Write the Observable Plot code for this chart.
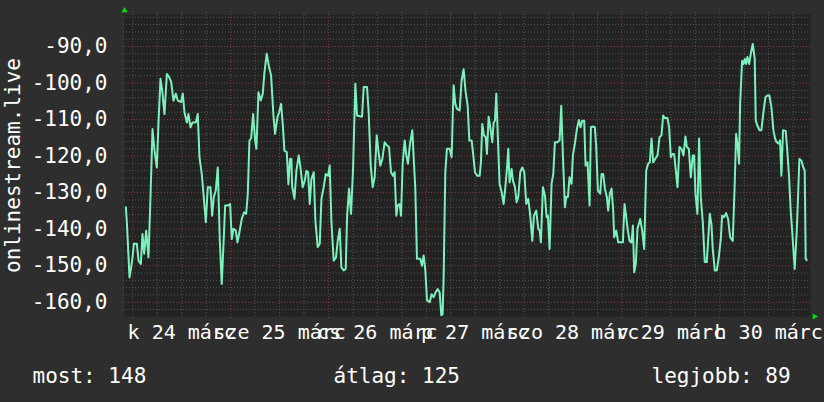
<!DOCTYPE html>
<html><head><meta charset="utf-8">
<script src="https://cdn.jsdelivr.net/npm/d3@7"></script>
<script src="https://cdn.jsdelivr.net/npm/@observablehq/plot@0.6"></script>
<style>
html,body{margin:0;padding:0;background:#2e2e2e;}
#chart svg{display:block}
</style></head>
<body><div id="chart"></div>
<script>
// hours since 24 márc 00:00
const hours = [
-1.71,-1.46,-1.21,-0.81,-0.40,-0.07,0.26,0.99,1.40,1.97,2.37,2.79,3.28,3.84,4.26,4.83,5.32,5.89,6.30,6.79,7.20,7.77,8.35,8.91,9.41,9.98,10.55,11.04,11.86,12.26,12.67,13.25,13.65,14.14,14.64,15.45,15.94,16.35,16.92,17.91,18.39,19.05,19.46,19.87,20.35,20.85,21.34,21.82,22.32,22.65,23.30,23.87,24.28,24.69,25.26,25.67,26.08,26.73,27.30,27.80,28.21,28.61,29.02,29.51,30.00,30.32,30.82,31.39,31.88,32.29,32.86,33.43,33.92,34.50,34.90,35.47,35.89,36.37,36.78,37.19,37.77,38.17,38.58,38.91,
39.07,39.65,40.13,40.71,41.12,41.68,42.18,42.59,43.00,43.40,43.81,44.39,44.79,45.36,45.86,46.27,46.83,47.33,47.89,48.30,48.71,49.28,49.85,50.27,50.76,51.16,51.74,52.23,52.56,53.04,53.53,54.03,54.59,55.00,56.23,56.64,57.45,57.86,58.36,58.85,59.33,59.83,60.24,60.72,61.21,61.79,62.36,62.85,63.34,63.83,64.23,64.65,64.97,65.47,65.79,66.20,66.69,67.10,67.50,68.00,68.57,68.90,69.30,69.71,70.53,70.94,71.35,71.76,72.17,72.82,73.31,73.79,74.29,74.78,75.27,75.68,76.00,76.25,76.66,77.06,77.72,78.21,78.70,79.11,79.52,80.18,80.66,81.15,
81.65,82.15,82.55,83.12,83.53,83.93,84.51,85.09,85.40,85.73,86.14,86.56,86.87,87.29,87.70,88.19,88.51,88.84,89.17,89.58,89.98,90.47,90.97,91.28,91.78,92.11,92.44,92.93,93.25,93.74,94.15,94.56,95.05,95.54,96.03,96.52,97.01,97.50,98.00,98.40,98.97,99.47,99.80,100.11,100.61,101.10,101.51,101.83,102.24,102.73,103.15,103.55,104.12,104.69,105.10,105.51,106.00,106.32,106.73,107.14,107.64,107.96,108.45,108.94,109.43,109.84,110.25,110.74,111.07,111.56,112.05,112.38,112.87,113.35,113.68,114.09,114.66,114.99,115.40,115.81,116.29,116.62,117.03,117.45,117.85,118.09,118.59,119.08,120.22,120.63,121.04,121.44,121.85,122.35,122.68,123.00,
123.40,123.81,124.47,124.95,125.45,125.94,126.42,126.83,127.25,127.66,128.14,128.72,129.21,129.69,130.10,130.51,131.16,131.57,131.98,132.39,132.80,133.21,133.62,134.10,134.60,135.09,135.57,135.90,136.39,136.88,137.37,137.70,138.03,138.51,138.92,139.33,139.83,140.31,140.80,141.13,141.54,141.95,142.27,142.77,143.26,143.75,144.24,144.57,145.06,145.55,146.04,146.53,147.18,147.67,148.00,148.33,148.73,148.98,149.47,149.80,150.13,150.45,150.77,151.19,151.60,152.08,152.57,152.82,153.23,153.72,154.21,154.70,155.19,155.68,156.17,156.66,157.15,157.56,157.96,158.45,158.78,159.11,159.51,160.17,160.58,160.98,161.39,161.89,162.37,162.86,163.19,163.52,164.01,164.50,164.83,165.07,165.32
];
const values = [
-134.0,-138.1,-144.0,-153.2,-150.4,-147.7,-144.0,-144.0,-148.6,-149.5,-141.3,-146.7,-140.4,-147.7,-134.0,-112.6,-118.5,-123.1,-110.8,-98.8,-102.0,-108.5,-97.5,-98.4,-99.7,-104.8,-102.9,-104.8,-105.2,-102.9,-108.0,-110.8,-108.5,-112.1,-110.8,-110.8,-108.5,-120.3,-124.9,-138.1,-128.5,-128.5,-136.3,-131.2,-129.4,-123.1,-143.2,-155.0,-142.2,-133.5,-133.5,-133.1,-142.7,-139.9,-140.4,-143.6,-141.3,-137.2,-135.4,-135.8,-130.3,-115.7,-115.2,-108.5,-115.7,-118.0,-102.5,-104.8,-102.9,-97.1,-92.0,-95.7,-97.9,-108.9,-113.9,-109.4,-108.0,-105.7,-111.2,-118.5,-118.9,-127.7,-120.8,-120.8,
-128.1,-131.7,-124.0,-119.8,-123.1,-128.5,-126.7,-124.0,-124.4,-133.1,-126.3,-124.4,-137.7,-144.9,-144.0,-131.7,-128.5,-124.9,-125.4,-122.6,-137.7,-148.6,-147.7,-143.2,-139.9,-150.4,-151.3,-150.9,-136.7,-128.9,-135.8,-123.5,-100.2,-108.9,-109.2,-101.1,-101.1,-108.0,-122.6,-128.5,-125.8,-114.3,-118.5,-122.6,-120.8,-116.2,-117.1,-117.5,-124.4,-125.4,-124.4,-136.3,-133.5,-133.1,-136.3,-122.1,-115.7,-119.8,-122.1,-116.6,-112.9,-120.3,-128.9,-148.1,-148.1,-150.0,-147.2,-151.3,-159.5,-160.0,-157.8,-158.6,-157.3,-156.4,-157.3,-163.6,-163.3,-153.2,-124.4,-118.0,-118.0,-120.3,-100.6,-105.7,-107.1,-107.5,-99.3,-96.2,
-102.5,-106.2,-115.7,-115.7,-119.8,-124.4,-125.4,-125.4,-121.7,-111.2,-114.3,-114.8,-119.4,-109.2,-112.1,-116.2,-110.8,-110.3,-102.9,-115.7,-127.6,-129.8,-133.1,-129.8,-123.5,-118.0,-127.2,-123.5,-126.7,-128.5,-132.6,-131.2,-124.4,-123.1,-124.4,-133.1,-131.7,-136.3,-143.2,-136.3,-134.9,-139.9,-140.4,-143.6,-128.5,-130.8,-136.7,-136.3,-145.4,-127.6,-124.9,-116.2,-116.2,-115.7,-106.2,-119.8,-134.0,-131.2,-131.2,-125.8,-127.6,-119.8,-116.6,-112.6,-110.1,-112.1,-110.3,-110.3,-122.6,-121.7,-133.5,-112.1,-111.9,-112.1,-117.5,-129.4,-130.3,-124.9,-124.9,-128.9,-131.2,-134.9,-130.3,-128.9,-134.9,-142.2,-140.4,-143.6,-143.6,-133.1,-136.7,-140.4,-143.2,-143.6,-139.0,-151.8,
-149.5,-139.9,-137.2,-140.4,-145.4,-124.0,-122.1,-121.7,-115.2,-121.7,-120.8,-119.8,-114.8,-114.3,-108.9,-109.6,-109.6,-112.1,-120.3,-119.4,-119.4,-124.0,-128.5,-117.5,-118.0,-119.8,-114.6,-117.5,-118.0,-125.8,-119.8,-119.8,-130.3,-135.8,-115.2,-131.2,-138.1,-149.0,-149.0,-143.2,-135.8,-138.6,-145.4,-151.3,-151.3,-147.7,-142.7,-136.3,-136.7,-135.6,-137.2,-142.2,-143.2,-127.2,-113.9,-116.6,-122.1,-105.7,-93.9,-94.8,-93.4,-94.8,-92.9,-94.8,-92.0,-89.3,-93.4,-110.3,-111.7,-112.9,-112.9,-108.0,-103.9,-103.4,-103.4,-106.6,-112.9,-115.2,-116.2,-116.6,-115.7,-125.4,-112.9,-113.1,-118.9,-125.4,-134.9,-142.7,-150.9,-140.9,-131.2,-120.8,-121.2,-123.1,-124.0,-148.1,-148.5
];
const dayLabels = ["k 24 márc","sze 25 márc","cs 26 márc","p 27 márc","szo 28 márc","v 29 márc","h 30 márc"];
const dayLabelHours = [12,36,60,84,108,132,156];
const dayStarts = [0,24,48,72,96,120,144];
const yTicks = [-160,-150,-140,-130,-120,-110,-100,-90];
const legendItems = ["most: 148","átlag: 125","legjobb: 89"];
const yTitle = "onlinestream.live";

const xDomain = [-2.04, 166.25];
const yDomain = [-163.9, -81.24];
const yMinor = d3.range(-162, -81, 2).filter(v => v % 10 !== 0);
const xMinor = d3.range(6, 166, 6).filter(h => h % 24 !== 0);

const series = hours.map((h, i) => ({h, v: values[i]}));
const days = dayLabelHours.map((h, i) => ({h, label: dayLabels[i]}));
const fmt = d => d.toFixed(1).replace(".", ",");

const legendDx = [-92, 209, 527];

const chart = Plot.plot({
  width: 824, height: 402,
  marginTop: 14, marginBottom: 86, marginLeft: 124, marginRight: 14,
  style: {background: "#2e2e2e", color: "#ffffff", fontFamily: "'DejaVu Sans Mono', monospace", fontSize: "21px", overflow: "visible"},
  x: {domain: xDomain, axis: null},
  y: {domain: yDomain, axis: null},
  marks: [
    Plot.frame({fill: "#232323"}),
    Plot.ruleY(yMinor, {stroke: "#555555", strokeDasharray: "1,2", insetLeft: -1}),
    Plot.ruleX(xMinor, {stroke: "#555555", strokeDasharray: "1,2", insetTop: -2, insetBottom: -2}),
    Plot.ruleY(yTicks, {stroke: "#8a3838", strokeDasharray: "1,2", insetLeft: -2}),
    Plot.ruleX(dayStarts, {stroke: "#8a3838", strokeDasharray: "1,2", insetTop: -3, insetBottom: -3}),
    Plot.axisY({ticks: yTicks, tickSize: 0, tickPadding: 17, tickFormat: fmt, fontSize: 21, label: null, fill: "#ffffff"}),
    Plot.line(series, {x: "h", y: "v", stroke: "#7cf0bd", strokeWidth: 2, clip: true}),
    Plot.text(days, {x: "h", text: "label", frameAnchor: "bottom", dy: 22, lineAnchor: "bottom", fontSize: 20, fill: "#ffffff", ariaLabel: "daylabels"}),
    Plot.text([yTitle], {frameAnchor: "left", dx: -105, rotate: -90, lineAnchor: "bottom", textAnchor: "middle", fontSize: 21, fill: "#ffffff"}),
    ...legendItems.map((t, i) => Plot.text([t], {frameAnchor: "bottom-left", dx: legendDx[i], dy: 66, lineAnchor: "bottom", textAnchor: "start", fontSize: 21, fill: "#ffffff"})),
    Plot.dot([0], {x: () => xDomain[0], y: () => yDomain[1], symbol: "triangle", r: 2.3, fill: "#00dd00", stroke: null, dy: -4}),
    Plot.dot([0], {x: () => xDomain[1], y: () => yDomain[0], symbol: "triangle", r: 2.3, fill: "#00dd00", stroke: null, rotate: 90, dx: 4})
  ]
});
d3.select(chart).selectAll('g[aria-label="daylabels"] text').attr("letter-spacing", "1.5px");
document.getElementById("chart").appendChild(chart);
</script>
</body></html>
